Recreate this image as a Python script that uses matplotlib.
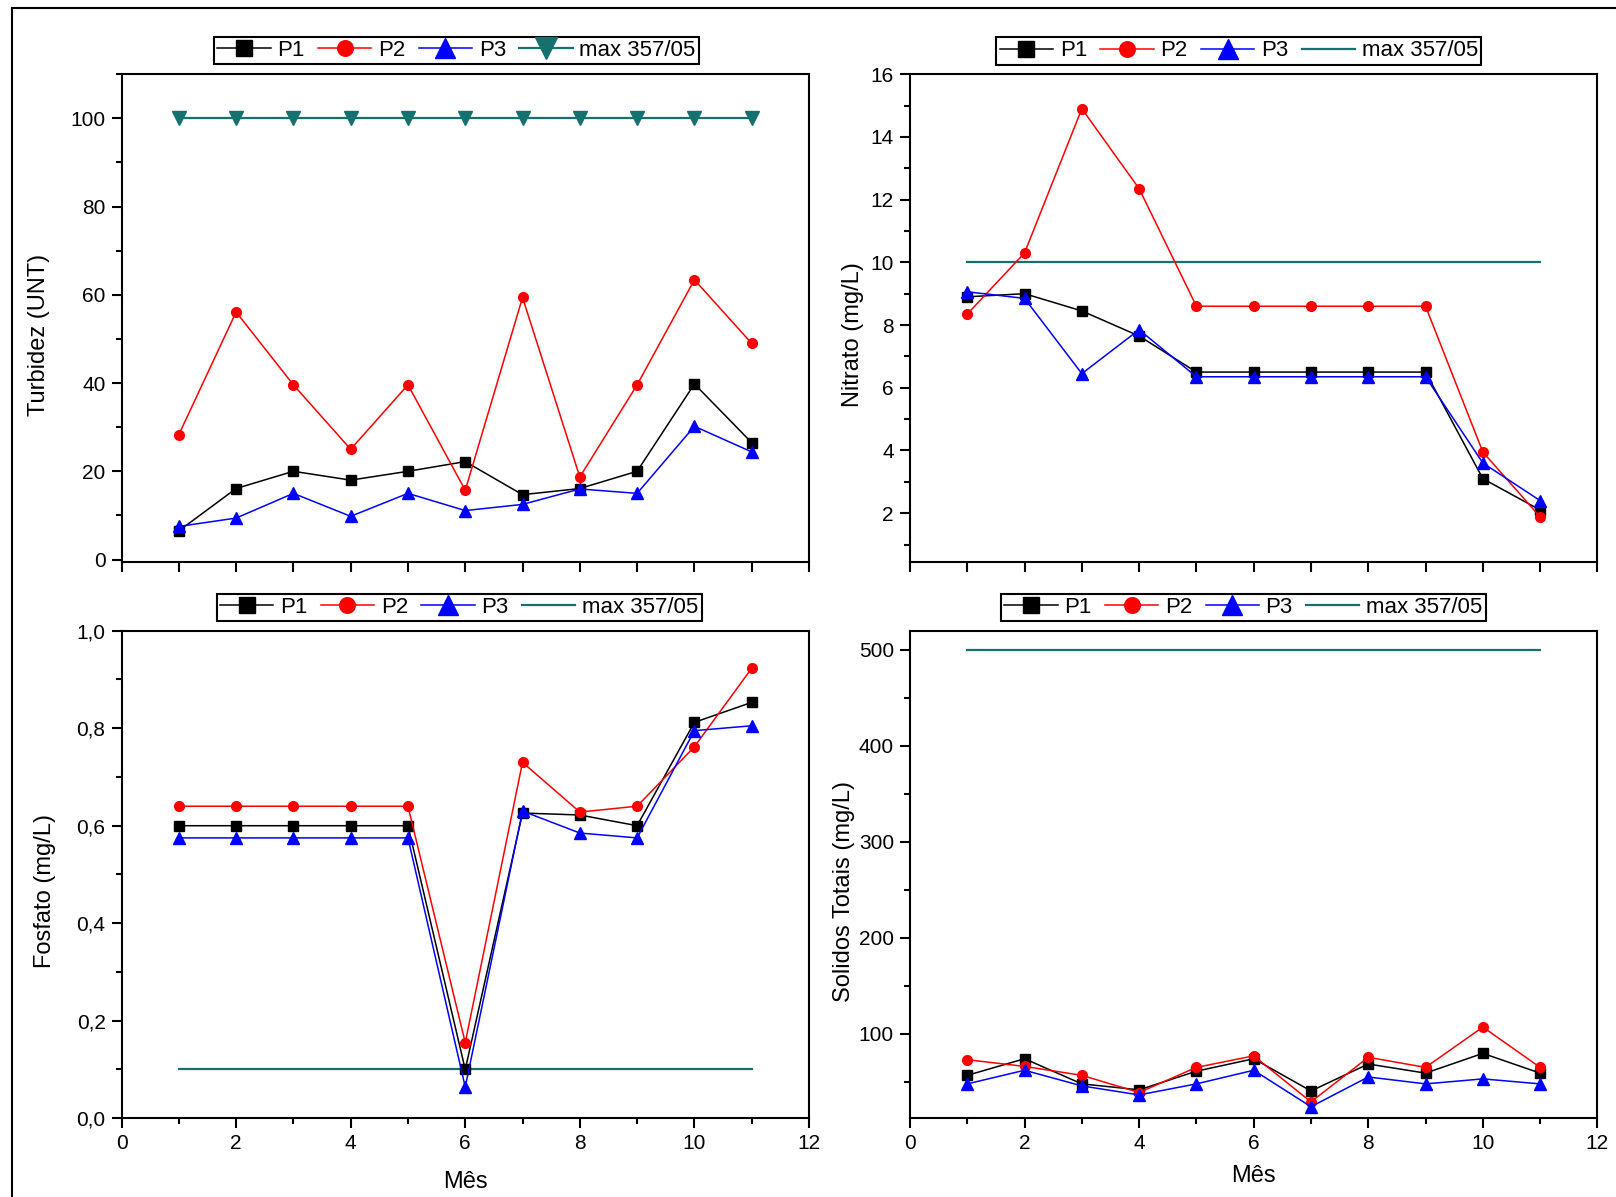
import numpy as np
import matplotlib.pyplot as plt
from matplotlib.lines import Line2D
from matplotlib.ticker import MultipleLocator, FixedLocator

plt.rcParams['font.family'] = ['Liberation Sans', 'DejaVu Sans']

# data
meses = [1, 2, 3, 4, 5, 6, 7, 8, 9, 10, 11]

turb_p1 = [6.5, 16.1, 20.0, 18.0, 20.0, 22.2, 14.7, 16.1, 20.0, 39.8, 26.5]
turb_p2 = [28.3, 56.1, 39.6, 25.0, 39.6, 15.7, 59.4, 18.7, 39.6, 63.4, 49.0]
turb_p3 = [7.5, 9.4, 15.0, 9.8, 15.0, 11.1, 12.5, 16.0, 15.0, 30.2, 24.4]
turb_max = [100, 100, 100, 100, 100, 100, 100, 100, 100, 100, 100]

nitr_p1 = [8.9, 9.0, 8.45, 7.65, 6.5, 6.5, 6.5, 6.5, 6.5, 3.1, 2.1]
nitr_p2 = [8.35, 10.3, 14.9, 12.35, 8.6, 8.6, 8.6, 8.6, 8.6, 3.95, 1.88]
nitr_p3 = [9.06, 8.85, 6.45, 7.85, 6.35, 6.35, 6.35, 6.35, 6.35, 3.6, 2.4]
nitr_max = [10] * 11

fosf_p1 = [0.60, 0.60, 0.60, 0.60, 0.60, 0.10, 0.626, 0.622, 0.60, 0.812, 0.853]
fosf_p2 = [0.64, 0.64, 0.64, 0.64, 0.64, 0.155, 0.73, 0.628, 0.64, 0.762, 0.923]
fosf_p3 = [0.575, 0.575, 0.575, 0.575, 0.575, 0.064, 0.63, 0.585, 0.575, 0.795, 0.805]
fosf_max = [0.1] * 11

sol_p1 = [56.7, 74, 47.8, 41.6, 61, 74, 40.4, 68.5, 59, 79.6, 59]
sol_p2 = [73, 66, 56.7, 38.8, 65, 77, 29, 75.5, 65, 107, 65]
sol_p3 = [47.8, 62, 45.7, 36.3, 47.8, 62, 24, 55, 47.8, 53, 47.8]
sol_max = [500] * 11

teal = '#14716d'

fig = plt.figure(figsize=(16.16, 11.97), dpi=100)
fig.patch.set_facecolor('white')

# frame lines on the left and top of the image
fig.add_artist(Line2D([0.0077, 0.0077], [0, 0.9931], transform=fig.transFigure, color='k', lw=1.5))
fig.add_artist(Line2D([0.0077, 1.0], [0.9931, 0.9931], transform=fig.transFigure, color='k', lw=1.5))

pos = {'tl': [0.0752, 0.5307, 0.4254, 0.4073],
       'tr': [0.5631, 0.5307, 0.4254, 0.4073],
       'bl': [0.0752, 0.0658, 0.4254, 0.4073],
       'br': [0.5631, 0.0658, 0.4254, 0.4073]}


def panel(key, p1, p2, p3, pmax, ylabel, max_marker, leg_xy, lab_x):
    ax = fig.add_axes(pos[key])
    ax.plot(meses, pmax, color=teal, lw=1.6, marker='v' if max_marker else None,
            ms=9.5, label='max 357/05', zorder=2)
    ax.plot(meses, p1, color='k', lw=1.1, marker='s', ms=7, label='P1', zorder=3)
    ax.plot(meses, p2, color='red', lw=1.1, marker='o', ms=7, label='P2', zorder=4)
    ax.plot(meses, p3, color='blue', lw=1.1, marker='^', ms=9, label='P3', zorder=5)
    ax.set_xlim(0, 12)
    for s in ax.spines.values():
        s.set_linewidth(1.5)
    ax.tick_params(direction='out', width=1.5, length=7.5, labelsize=15, pad=4)
    ax.tick_params(which='minor', direction='out', width=1.5, length=4.5)
    ax.set_ylabel(ylabel, fontsize=17)
    ax.yaxis.set_label_coords(lab_x, 0.466)
    h, l = ax.get_legend_handles_labels()
    order = [1, 2, 3, 0]
    leg = ax.legend([h[i] for i in order], [l[i] for i in order], loc='center',
                    bbox_to_anchor=leg_xy, bbox_transform=fig.transFigure,
                    ncol=4, fontsize=16, frameon=True, fancybox=False,
                    edgecolor='k', framealpha=1, markerscale=1.6, handlelength=2.4,
                    handletextpad=0.3, columnspacing=0.6, borderpad=0.15,
                    borderaxespad=0)
    leg.get_frame().set_linewidth(1.5)
    return ax


ax1 = panel('tl', turb_p1, turb_p2, turb_p3, turb_max, 'Turbidez (UNT)', True,
            (0.2825, 0.9578), -0.1036)
ax1.set_ylim(-0.5, 110)
ax1.yaxis.set_major_locator(FixedLocator([0, 20, 40, 60, 80, 100]))
ax1.yaxis.set_minor_locator(FixedLocator([10, 30, 50, 70, 90, 110]))

ax2 = panel('tr', nitr_p1, nitr_p2, nitr_p3, nitr_max, 'Nitrato (mg/L)', False,
            (0.7666, 0.9574), -0.0665)
ax2.set_ylim(0.45, 16)
ax2.yaxis.set_major_locator(FixedLocator([2, 4, 6, 8, 10, 12, 14, 16]))
ax2.yaxis.set_minor_locator(FixedLocator([1, 3, 5, 7, 9, 11, 13, 15]))

for ax in (ax1, ax2):
    ax.xaxis.set_major_locator(MultipleLocator(1))
    ax.tick_params(axis='x', labelbottom=False)

ax3 = panel('bl', fosf_p1, fosf_p2, fosf_p3, fosf_max, 'Fosfato (mg/L)', False,
            (0.2841, 0.4925), -0.096)
ax3.set_ylim(0, 1.0)
ax3.yaxis.set_minor_locator(MultipleLocator(0.1))
ax3.set_yticks([0, 0.2, 0.4, 0.6, 0.8, 1.0])
ax3.set_yticklabels(['0,0', '0,2', '0,4', '0,6', '0,8', '1,0'])

ax4 = panel('br', sol_p1, sol_p2, sol_p3, sol_max, 'Solidos Totais (mg/L)', False,
            (0.7694, 0.4925), -0.080)
ax4.set_ylim(12, 520)
ax4.yaxis.set_major_locator(FixedLocator([100, 200, 300, 400, 500]))
ax4.yaxis.set_minor_locator(FixedLocator([50, 150, 250, 350, 450]))

for ax, ly in ((ax3, -0.108), (ax4, -0.095)):
    ax.xaxis.set_major_locator(MultipleLocator(2))
    ax.xaxis.set_minor_locator(MultipleLocator(1))
    ax.set_xlabel('Mês', fontsize=17)
    ax.xaxis.set_label_coords(0.5, ly)
    ax.xaxis.label.set_va('top')

plt.savefig('out.png', dpi=100, facecolor='white')
